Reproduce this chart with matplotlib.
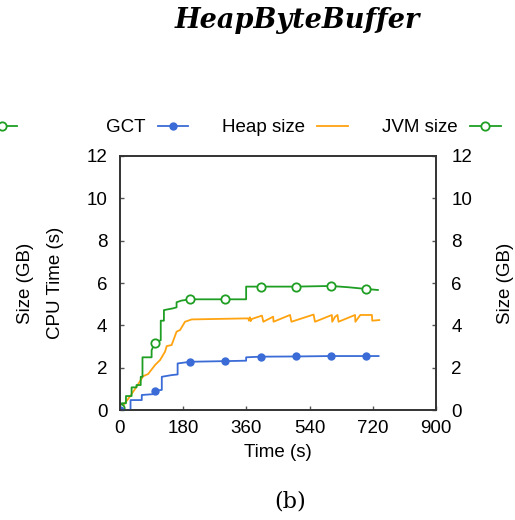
import numpy as np
import matplotlib
matplotlib.use("Agg")
import matplotlib.pyplot as plt
from matplotlib.lines import Line2D

# GCT (CPU time, s)
gct_t = [0, 30, 30, 62, 62, 95, 100, 119, 119, 147, 164, 164, 200, 300, 359, 359, 400, 500, 600, 700, 736]
gct_v = [0, 0, 0.47, 0.47, 0.71, 0.75, 0.91, 0.95, 1.57, 1.65, 1.68, 2.2, 2.28, 2.31, 2.33, 2.49, 2.52, 2.53, 2.55, 2.55, 2.55]

# Heap size (GB)
heap_t = [0, 10, 28, 47, 66, 80, 100, 114, 128, 133, 147, 161, 171, 185, 204, 300, 365, 367, 370, 372,
          375, 404, 408, 436, 437, 484, 488, 551, 555, 603, 604, 612, 619, 622, 669, 670, 684, 717, 718, 738]
heap_v = [0.05, 0.24, 0.63, 1.1, 1.6, 1.7, 2.13, 2.36, 2.75, 3.02, 3.07, 3.7, 3.78, 4.17, 4.28, 4.31, 4.33, 4.22, 4.38, 4.2,
          4.3, 4.46, 4.17, 4.41, 4.17, 4.49, 4.17, 4.51, 4.17, 4.49, 4.17, 4.4, 4.49, 4.17, 4.49, 4.17, 4.49, 4.49, 4.22, 4.25]

# JVM size (GB)
jvm_t = [0, 5, 5, 17, 17, 33, 33, 47, 47, 59, 59, 64, 64, 90, 90, 100, 116, 116, 125, 125,
         150, 161, 161, 175, 200, 300, 359, 359, 400, 500, 600, 650, 700, 734]
jvm_v = [0.1, 0.1, 0.32, 0.32, 0.66, 0.66, 1.07, 1.07, 1.18, 1.18, 1.57, 1.57, 2.49, 2.49, 2.83, 3.18, 3.3, 4.22, 4.22, 4.72,
         4.8, 4.85, 5.09, 5.17, 5.23, 5.23, 5.23, 5.83, 5.83, 5.83, 5.86, 5.8, 5.72, 5.67]

xticks = [0, 180, 360, 540, 720, 900]
yticks = [0, 2, 4, 6, 8, 10, 12]

BLUE = "#3a6bd6"
ORANGE = "#ffa310"
GREEN = "#1f9e24"
FS = 13.5

plt.rcParams['font.family'] = ['Liberation Sans', 'DejaVu Sans']

fig = plt.figure(figsize=(5.15, 5.2), dpi=100)
ax = fig.add_axes([0.233, 0.2115, 0.614, 0.4885])


def marker_idx(t):
    # markers every 100 s
    seen = set()
    idx = []
    for i, x in enumerate(t):
        if x % 100 == 0 and x not in seen and x <= 700:
            seen.add(x)
            idx.append(i)
    return idx


ax.plot(gct_t, gct_v, color=BLUE, lw=1.3, marker="o", ms=5, markevery=marker_idx(gct_t),
        label="GCT", zorder=3)
ax.plot(heap_t, heap_v, color=ORANGE, lw=1.3, label="Heap size", zorder=2)
ax.plot(jvm_t, jvm_v, color=GREEN, lw=1.3, marker="o", ms=6, mfc="white", mew=1.3,
        markevery=marker_idx(jvm_t), label="JVM size", zorder=2)

ax.set_xlim(0, 900)
ax.set_ylim(0, 12)
ax.set_xticks(xticks)
ax.set_yticks(yticks)
ax.tick_params(axis="both", direction="in", length=3, width=1, color="#555555",
               labelsize=FS, top=False)
ax.tick_params(axis="y", pad=9)
ax.tick_params(axis="x", pad=7)
for s in ax.spines.values():
    s.set_color("#333333")
    s.set_linewidth(1.2)

ax2 = ax.twinx()
ax2.set_ylim(0, 12)
ax2.set_yticks(yticks)
ax2.tick_params(axis="y", direction="in", length=3, width=1, color="#555555",
                labelsize=FS, pad=11)
for s in ax2.spines.values():
    s.set_color("#333333")
    s.set_linewidth(1.2)

ax.set_xlabel("Time (s)", fontsize=FS, labelpad=5)
fig.text(0.049, 0.456, "Size (GB)", rotation=90, ha="center", va="center", fontsize=FS)
fig.text(0.108, 0.456, "CPU Time (s)", rotation=90, ha="center", va="center", fontsize=FS)
fig.text(0.981, 0.456, "Size (GB)", rotation=90, ha="center", va="center", fontsize=FS)

fig.legend(loc="center", bbox_to_anchor=(0.589, 0.754), ncol=3, frameon=False,
           markerfirst=False, fontsize=FS, handlelength=1.65, handletextpad=0.65,
           columnspacing=1.8, borderpad=0)

# neighbouring panel's legend handle, cut at the figure edge
h = Line2D([], [], color=GREEN, lw=1.3, marker="o", ms=6, mfc="white", mew=1.3)
fig.legend([h], [""], loc="center right", bbox_to_anchor=(0.052, 0.754),
           frameon=False, markerfirst=False, fontsize=FS, handlelength=1.65,
           handletextpad=0, borderpad=0)

fig.text(0.578, 0.947, "HeapByteBuffer", ha="center", va="baseline", fontsize=19.5,
         family="DejaVu Serif", style="italic", weight="bold")
fig.text(0.563, 0.036, "(b)", ha="center", va="center", fontsize=16, family="DejaVu Serif")

fig.savefig("out.png", dpi=100)
